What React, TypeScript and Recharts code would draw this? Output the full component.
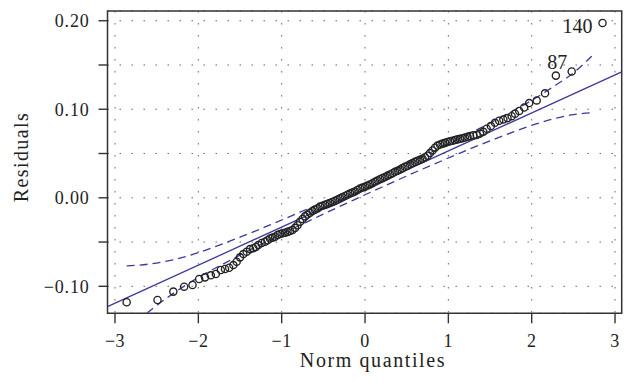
import React from 'react';
import {
  ComposedChart,
  Scatter,
  Line,
  XAxis,
  YAxis,
  CartesianGrid,
  ReferenceArea
} from 'recharts';

// theoretical normal quantiles and sorted residuals
const normQuantiles = [
  -2.86, -2.49, -2.30, -2.17, -2.07, -1.99, -1.92, -1.85, -1.79, -1.73,
  -1.68, -1.63, -1.58, -1.54, -1.50, -1.46, -1.42, -1.38, -1.34, -1.31,
  -1.28, -1.24, -1.20, -1.17, -1.14, -1.11, -1.08, -1.05, -1.02, -0.99,
  -0.96, -0.93, -0.90, -0.87, -0.84, -0.81, -0.78, -0.75, -0.72, -0.69,
  -0.66, -0.63, -0.60, -0.57, -0.54, -0.51, -0.48, -0.45, -0.42, -0.39,
  -0.36, -0.33, -0.30, -0.27, -0.24, -0.21, -0.18, -0.15, -0.12, -0.09,
  -0.06, -0.03, 0.00, 0.03, 0.06, 0.09, 0.12, 0.15, 0.18, 0.21,
  0.24, 0.27, 0.30, 0.33, 0.36, 0.39, 0.42, 0.45, 0.48, 0.51,
  0.54, 0.57, 0.60, 0.63, 0.66, 0.69, 0.72, 0.75, 0.78, 0.81,
  0.84, 0.87, 0.90, 0.93, 0.96, 0.99, 1.02, 1.05, 1.08, 1.11,
  1.14, 1.17, 1.20, 1.23, 1.26, 1.30, 1.34, 1.38, 1.42, 1.46,
  1.51, 1.56, 1.61, 1.66, 1.71, 1.76, 1.80, 1.85, 1.91, 1.97,
  2.06, 2.16, 2.29, 2.48, 2.85
];

const residuals = [
  -0.118, -0.1155, -0.106, -0.1004, -0.0985, -0.0918, -0.0899, -0.0876, -0.0861, -0.0816,
  -0.0805, -0.079, -0.076, -0.0722, -0.0673, -0.0636, -0.061, -0.058, -0.057, -0.0555,
  -0.0534, -0.051, -0.0497, -0.048, -0.046, -0.045, -0.044, -0.042, -0.041, -0.040,
  -0.0395, -0.0385, -0.0375, -0.0365, -0.034, -0.031, -0.027, -0.024, -0.021, -0.019,
  -0.017, -0.015, -0.0135, -0.012, -0.010, -0.009, -0.008, -0.007, -0.006, -0.0047,
  -0.0035, -0.0022, -0.0008, 0.0005, 0.002, 0.0035, 0.0048, 0.006, 0.007, 0.0088,
  0.0105, 0.0115, 0.0125, 0.0138, 0.015, 0.0165, 0.018, 0.0195, 0.021, 0.0222,
  0.0235, 0.025, 0.0263, 0.0278, 0.0293, 0.0305, 0.032, 0.0335, 0.035, 0.0362,
  0.0378, 0.0392, 0.0406, 0.0418, 0.043, 0.0442, 0.0458, 0.0475, 0.0505, 0.0535,
  0.0565, 0.059, 0.0602, 0.0612, 0.062, 0.063, 0.0638, 0.0645, 0.0652, 0.066,
  0.0666, 0.0672, 0.068, 0.069, 0.0698, 0.0705, 0.071, 0.0725, 0.0745, 0.078,
  0.081, 0.0847, 0.087, 0.0885, 0.090, 0.0922, 0.095, 0.098, 0.102, 0.107,
  0.110, 0.118, 0.138, 0.1426, 0.1975
];

// labelled observations (by their quantile position)
const outlierNames = ['87', '140'];
const outlierQuantiles = [2.29, 2.85];

// fitted reference line, at the plot edges
const fitX = [-3.09, 3.08];
const fitY = [-0.123, 0.1423];

// confidence envelope
const envX = [-2.86, -2.6, -2.3, -2.0, -1.7, -1.4, -1.1, -0.8, -0.5, -0.2, 0, 0.2, 0.5, 0.8, 1.1, 1.4, 1.7, 2.0, 2.3, 2.5, 2.72];
const envUpper = [-0.077, -0.075, -0.070, -0.062, -0.0517, -0.0408, -0.0291, -0.0171, -0.0048, 0.0079, 0.0164, 0.0251, 0.0382, 0.0517, 0.0655, 0.0796, 0.0945, 0.110, 0.128, 0.141, 0.160];
const envLower = [-0.149, -0.129, -0.108, -0.090, -0.0747, -0.0598, -0.0457, -0.0319, -0.0184, -0.0053, 0.0034, 0.0119, 0.0246, 0.0369, 0.0489, 0.0606, 0.0715, 0.0819, 0.090, 0.094, 0.096];

const xTicks = [-3, -2, -1, 0, 1, 2, 3];
const xTickLabels = ['\u22123', '\u22122', '\u22121', '0', '1', '2', '3'];
const yTicks = [-0.1, -0.05, 0, 0.05, 0.1, 0.15, 0.2];
const yTickLabels = ['\u22120.10', '', '0.00', '', '0.10', '', '0.20'];

const xDomain = [-3.09, 3.08];
const yDomain = [-0.1305, 0.211];

const FONT = 'Liberation Serif, serif';
const BLUE = '#3d399c';
const INK = '#222';

const points = normQuantiles.map((x, i) => {
  const k = outlierQuantiles.indexOf(x);
  return { x, y: residuals[i], name: k >= 0 ? outlierNames[k] : '' };
});
const fitLine = fitX.map((x, i) => ({ x, y: fitY[i] }));
const upper = envX.map((x, i) => ({ x, y: envUpper[i] }));
const lower = envX.map((x, i) => ({ x, y: envLower[i] }));

const PointShape = (props: any) => {
  const { cx, cy, payload } = props;
  if (cx == null || cy == null) return null;
  const name = payload && payload.name;
  return (
    <g>
      <circle cx={cx} cy={cy} r={3.6} fill="none" stroke={INK} strokeWidth={1.35} />
      {name === '140' && (
        <text x={cx - 10} y={cy + 10.5} textAnchor="end" style={{ fontFamily: FONT, fontSize: 20 }} fill={INK}>
          {name}
        </text>
      )}
      {name === '87' && (
        <text x={cx + 1.5} y={cy - 7} textAnchor="middle" style={{ fontFamily: FONT, fontSize: 20 }} fill={INK}>
          {name}
        </text>
      )}
    </g>
  );
};

const XTick = (props: any) => {
  const { x, y, payload } = props;
  return (
    <text x={x} y={y} dy="0.71em" textAnchor="middle" fill={INK} style={{ fontFamily: FONT, fontSize: 18, letterSpacing: 0.5 }}>
      {xTickLabels[xTicks.indexOf(payload.value)]}
    </text>
  );
};

const YTick = (props: any) => {
  const { x, y, payload } = props;
  return (
    <text x={x} y={y} dy="0.355em" textAnchor="end" fill={INK} style={{ fontFamily: FONT, fontSize: 18, letterSpacing: 0.8 }}>
      {yTickLabels[yTicks.indexOf(payload.value)]}
    </text>
  );
};

const App: React.FC = () => {
  return (
    <div style={{ position: 'absolute', left: 0, top: 0, width: 629, height: 383, background: '#fff' }}>
      <ComposedChart width={629} height={383} margin={{ top: 11, right: 7.3, bottom: 39.7, left: 0 }}>
        <CartesianGrid stroke="#666" strokeDasharray="1.5 10.5" strokeWidth={1} />
        <XAxis
          type="number"
          dataKey="x"
          domain={xDomain}
          allowDataOverflow
          ticks={xTicks}
          height={30}
          tickSize={10}
          tickMargin={10.6}
          axisLine={false}
          tickLine={{ stroke: '#333', strokeWidth: 1.4 }}
          tick={<XTick />}
        />
        <YAxis
          type="number"
          dataKey="y"
          domain={yDomain}
          allowDataOverflow
          ticks={yTicks}
          width={107.5}
          tickSize={9}
          tickMargin={9}
          axisLine={false}
          tickLine={{ stroke: '#333', strokeWidth: 1.4 }}
          tick={<YTick />}
        />
        <ReferenceArea
          x1={xDomain[0]}
          x2={xDomain[1]}
          y1={yDomain[0]}
          y2={yDomain[1]}
          fill="none"
          fillOpacity={0}
          stroke="#333"
          strokeWidth={1.5}
          ifOverflow="visible"
        />
        <Scatter data={points} dataKey="y" shape={PointShape} isAnimationActive={false} />
        <Line data={fitLine} dataKey="y" type="linear" stroke={BLUE} strokeWidth={1.3} dot={false} activeDot={false} isAnimationActive={false} />
        <Line data={upper} dataKey="y" type="monotone" stroke={BLUE} strokeWidth={1.3} strokeDasharray="8 5" dot={false} activeDot={false} isAnimationActive={false} />
        <Line data={lower} dataKey="y" type="monotone" stroke={BLUE} strokeWidth={1.3} strokeDasharray="8 5" dot={false} activeDot={false} isAnimationActive={false} />
      </ComposedChart>
      <svg width={629} height={383} style={{ position: 'absolute', left: 0, top: 0, pointerEvents: 'none' }}>
        <text x={373} y={367} textAnchor="middle" fill={INK} style={{ fontFamily: FONT, fontSize: 20, letterSpacing: 1.6 }}>
          Norm quantiles
        </text>
        <text
          transform="translate(28,157) rotate(-90)"
          textAnchor="middle"
          fill={INK}
          style={{ fontFamily: FONT, fontSize: 20, letterSpacing: 1.4 }}
        >
          Residuals
        </text>
      </svg>
    </div>
  );
};

export default App;
